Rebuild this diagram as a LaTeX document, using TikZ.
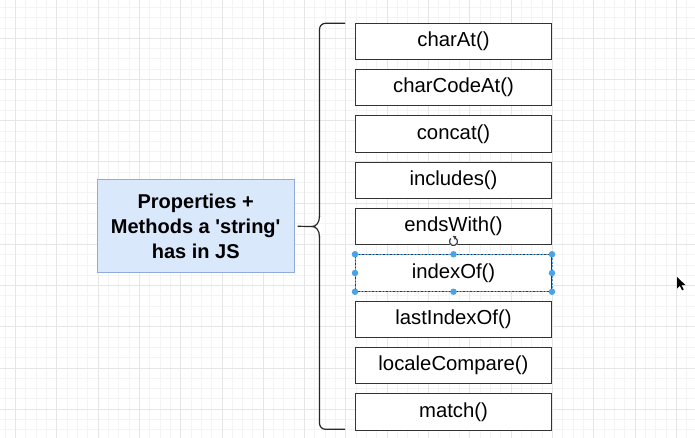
\documentclass[tikz,border=0pt]{standalone}
\usepackage{fontspec}
\setmainfont{Liberation Sans}
\definecolor{gridminor}{HTML}{F4F4F4}
\definecolor{gridmajor}{HTML}{E6E6E6}
\definecolor{lfill}{HTML}{DAE8FC}
\definecolor{ldraw}{HTML}{8FAADC}
\definecolor{selblue}{HTML}{4AA3E6}
\tikzset{
  mbox/.style={draw=black!80, line width=1pt, fill=white, minimum width=196pt, minimum height=36.5pt, inner sep=0pt, font=\fontsize{20.3}{24}\selectfont},
  lbox/.style={draw=ldraw, line width=1pt, fill=lfill, minimum width=196.7pt, minimum height=92.7pt, inner sep=0pt, align=center, font=\fontsize{20}{25}\selectfont\bfseries},
  bracestyle/.style={draw=black!85, line width=1.2pt},
  handle/.style={circle, fill=selblue, inner sep=0pt, minimum size=6.5pt},
}
\begin{document}
\begin{tikzpicture}[x=1pt,y=-1pt]
\useasboundingbox (0,0) rectangle (695,438);
\fill[white] (0,0) rectangle (695,438);
% grid
\foreach \k in {0,...,66} \draw[gridminor, line width=0.8pt] ({4.97+10.33*\k},0) -- ({4.97+10.33*\k},438);
\foreach \k in {0,...,41} \draw[gridminor, line width=0.8pt] (0,{7.4+10.3*\k}) -- (695,{7.4+10.3*\k});
\foreach \k in {0,...,16} \draw[gridmajor, line width=0.8pt] ({15.3+41.32*\k},0) -- ({15.3+41.32*\k},438);
\foreach \k in {0,...,10} \draw[gridmajor, line width=0.8pt] (0,{38.3+41.2*\k}) -- (695,{38.3+41.2*\k});

% left box
\node[lbox] (main) at (195.7,226.3) {Properties +\\Methods a \textquotesingle string\textquotesingle\\has in JS};

% brace
\coordinate (tip) at (312,226.5);
\draw[bracestyle, rounded corners=6pt] (345,23.3) -- (319.5,23.3) -- (319.5,217);
\draw[bracestyle] (319.5,216) .. controls (319.5,223) and (316,226.5) .. (tip) .. controls (316,226.5) and (319.5,230) .. (319.5,237);
\draw[bracestyle, rounded corners=6pt] (319.5,236) -- (319.5,429.3) -- (345,429.3);
\draw[bracestyle] (main.east) ++(3,0) -- (tip);

% method boxes
\node[mbox] (m0) at (453.5,41.3) {charAt()};
\node[mbox] (m1) at (453.5,87.6) {charCodeAt()};
\node[mbox] (m2) at (453.5,134.0) {concat()};
\node[mbox] (m3) at (453.5,180.3) {includes()};
\node[mbox] (m4) at (453.5,226.7) {endsWith()};
\node[mbox] (m5) at (453.5,273.0) {indexOf()};
\node[mbox] (m6) at (453.5,319.4) {lastIndexOf()};
\node[mbox] (m7) at (453.5,365.7) {localeCompare()};
\node[mbox] (m8) at (453.5,412.1) {match()};

% selection of indexOf
\draw[selblue, line width=0.8pt, dash pattern=on 2pt off 1.5pt] (m5.north west) rectangle (m5.south east);
\foreach \a in {north west,north,north east,west,east,south west,south,south east}
  \node[handle] at (m5.\a) {};

% rotate handle
\coordinate (rot) at (453.5,241.5);
\fill[white] (rot) circle (5pt);
\draw[black!75, line width=1.2pt] (rot) ++(70:4pt) arc[start angle=70, end angle=-230, radius=4pt];
\fill[black!75] (rot) ++(70:4pt) ++(-2.2,-2) -- ++(3.8,0.6) -- ++(-1.6,3.4) -- cycle;

% mouse cursor
\coordinate (cur) at (677,277);
\fill[black] (cur) -- ++(0,11.5) -- ++(2.8,-2.8) -- ++(2.3,4.7) -- ++(1.6,-0.8) -- ++(-2.2,-4.5) -- ++(4,0) -- cycle;
\end{tikzpicture}
\end{document}
